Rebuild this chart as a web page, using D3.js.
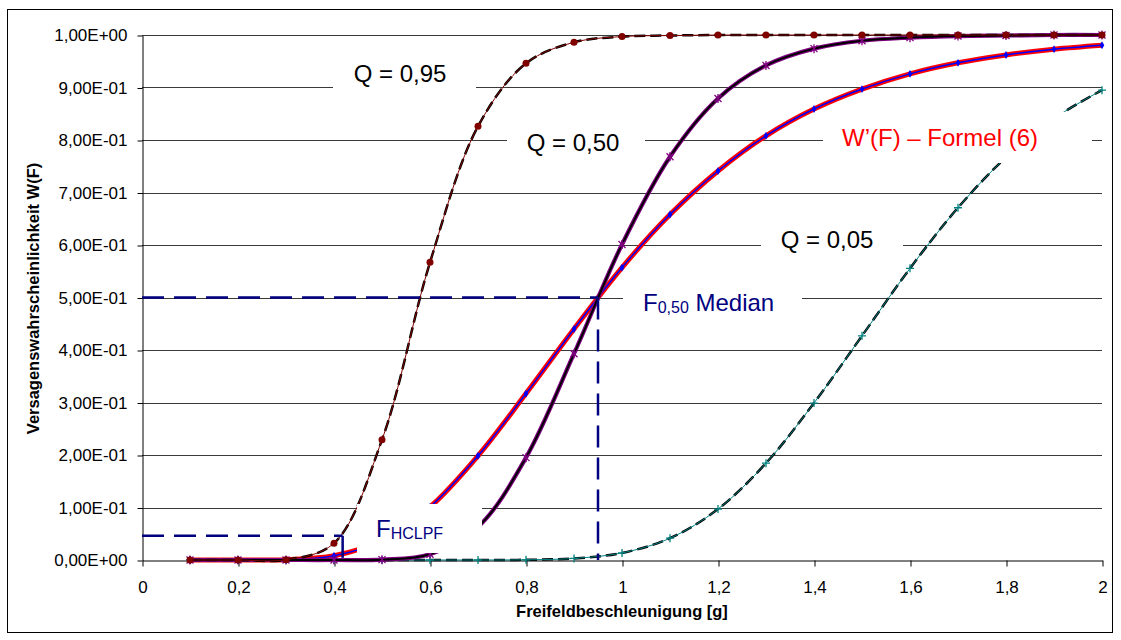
<!DOCTYPE html>
<html>
<head>
<meta charset="utf-8">
<script src="https://cdn.jsdelivr.net/npm/d3@7"></script>
<style>
  body { margin: 0; background: #fff; }
  text { font-family: "Liberation Sans", Arial, sans-serif; }
</style>
</head>
<body>
<svg id="chart"></svg>
<script>
// Freifeldbeschleunigung [g]
const accel = [0.1, 0.2, 0.3, 0.4, 0.5, 0.6, 0.7, 0.8, 0.9, 1.0, 1.1, 1.2, 1.3, 1.4, 1.5, 1.6, 1.7, 1.8, 1.9, 2.0]
// Versagenswahrscheinlichkeit je Konfidenz Q
const q95 = [0, 0, 0.0005, 0.032, 0.229, 0.567, 0.826, 0.946, 0.986, 0.997, 0.999, 1, 1, 1, 1, 1, 1, 1, 1, 1]
const q50 = [0, 0, 0, 0, 0.0007, 0.011, 0.063, 0.195, 0.393, 0.601, 0.768, 0.879, 0.942, 0.974, 0.989, 0.995, 0.998, 0.999, 1, 1]
const q05 = [0, 0, 0, 0, 0, 0, 0, 0.0004, 0.003, 0.0135, 0.0415, 0.097, 0.1845, 0.299, 0.427, 0.5555, 0.671, 0.767, 0.841, 0.895]
// W'(F) nach Formel (6)
const wPrime = [0, 0, 0.0007, 0.008, 0.0375, 0.101, 0.1985, 0.317, 0.44, 0.557, 0.658, 0.741, 0.808, 0.859, 0.897, 0.926, 0.947, 0.962, 0.973, 0.9805]
// F0,50 und FHCLPF  [F, W]
const medianPoint = [0.95, 0.5]
const hclpfPoint = [0.418, 0.046]

const xTicks = [0, 0.2, 0.4, 0.6, 0.8, 1.0, 1.2, 1.4, 1.6, 1.8, 2.0]
const xTickLabels = ["0", "0,2", "0,4", "0,6", "0,8", "1", "1,2", "1,4", "1,6", "1,8", "2"]
const yTicks = [0, 0.1, 0.2, 0.3, 0.4, 0.5, 0.6, 0.7, 0.8, 0.9, 1.0]
const yTickLabels = ["0,00E+00", "1,00E-01", "2,00E-01", "3,00E-01", "4,00E-01", "5,00E-01",
    "6,00E-01", "7,00E-01", "8,00E-01", "9,00E-01", "1,00E+00"]

const width = 1121
const height = 640
const plotLeft = 142, plotRight = 1102, plotTop = 35, plotBottom = 560

const svg = d3.select('#chart')
    .attr('width', width)
    .attr('height', height)
    .attr('viewBox', `0 0 ${width} ${height}`)

const x = d3.scaleLinear().domain([0, 2]).range([plotLeft, plotRight])
const y = d3.scaleLinear().domain([0, 1]).range([plotBottom, plotTop])

// Rahmen
svg.append('rect')
    .attr('x', 7.5).attr('y', 9.5)
    .attr('width', 1105).attr('height', 623)
    .attr('fill', '#fff')
    .attr('stroke', '#000')
    .attr('stroke-width', 1)

// Gitterlinien
svg.append('g')
    .selectAll('line')
    .data(yTicks.slice(1))
    .join('line')
    .attr('x1', x(0)).attr('x2', x(2))
    .attr('y1', d => Math.round(y(d)) + 0.5)
    .attr('y2', d => Math.round(y(d)) + 0.5)
    .attr('stroke', '#3a3a3a')
    .attr('stroke-width', 1)

// Achsen
const yAxis = g => g
    .attr('transform', `translate(${plotLeft + 0.5}, 0.5)`)
    .call(d3.axisLeft(y).tickValues(yTicks).tickFormat((d, i) => yTickLabels[i])
        .tickSize(5).tickSizeOuter(0).tickPadding(10))
    .call(g => g.selectAll('text').attr('font-size', 17).attr('fill', '#000'))
    .attr('font-family', null)

const xAxis = g => g
    .attr('transform', `translate(0.5, ${plotBottom + 0.5})`)
    .call(d3.axisBottom(x).tickValues(xTicks).tickFormat((d, i) => xTickLabels[i])
        .tickSize(6).tickSizeOuter(0).tickPadding(14))
    .call(g => g.selectAll('text').attr('font-size', 17).attr('fill', '#000'))
    .attr('font-family', null)

svg.append('g').call(yAxis)
svg.append('g').call(xAxis)

// Achsentitel
svg.append('text')
    .attr('transform', `translate(39, ${(plotTop + plotBottom) / 2 + 1}) rotate(-90)`)
    .attr('text-anchor', 'middle')
    .attr('font-size', 16.5)
    .attr('font-weight', 'bold')
    .text('Versagenswahrscheinlichkeit W(F)')

svg.append('text')
    .attr('x', (plotLeft + plotRight) / 2)
    .attr('y', 617)
    .attr('text-anchor', 'middle')
    .attr('font-size', 16.5)
    .attr('font-weight', 'bold')
    .text('Freifeldbeschleunigung [g]')

// Kurven
const pts = vals => accel.map((a, i) => [a, vals[i]])
const line = d3.line()
    .x(d => x(d[0]))
    .y(d => y(d[1]))
    .curve(d3.curveCatmullRom)

const drawPath = (data, color, w, dash) => {
    const p = svg.append('path')
        .attr('d', line(data))
        .attr('fill', 'none')
        .attr('stroke', color)
        .attr('stroke-width', w)
        .attr('stroke-linejoin', 'round')
    if (dash) p.attr('stroke-dasharray', dash)
    return p
}

const starPath = s => `M${-s},${-s}L${s},${s}M${-s},${s}L${s},${-s}M0,${-s - 1}L0,${s + 1}`
const plusPath = s => `M${-s},0L${s},0M0,${-s}L0,${s}`

// Q = 0,05
drawPath(pts(q05), '#000', 2.5, '11,5')
drawPath(pts(q05), '#008080', 1)
svg.append('g').selectAll('path')
    .data(pts(q05))
    .join('path')
    .attr('transform', d => `translate(${x(d[0])},${y(d[1])})`)
    .attr('d', plusPath(4))
    .attr('stroke', '#008080')
    .attr('stroke-width', 1.3)

// W'(F)
drawPath(pts(wPrime), '#ff0000', 5)
drawPath(pts(wPrime), '#0000ff', 1.5)
svg.append('g').selectAll('path')
    .data(pts(wPrime))
    .join('path')
    .attr('transform', d => `translate(${x(d[0])},${y(d[1])})`)
    .attr('d', d3.symbol(d3.symbolDiamond, 18)())
    .attr('fill', '#0000ff')

// Q = 0,50
drawPath(pts(q50), '#800080', 4.2)
drawPath(pts(q50), '#000', 2)
svg.append('g').selectAll('path')
    .data(pts(q50))
    .join('path')
    .attr('transform', d => `translate(${x(d[0])},${y(d[1])})`)
    .attr('d', starPath(3.5))
    .attr('stroke', '#800080')
    .attr('stroke-width', 1.3)

// Q = 0,95
drawPath(pts(q95), '#000', 2.5, '11,5')
drawPath(pts(q95), '#800000', 1)
svg.append('g').selectAll('circle')
    .data(pts(q95))
    .join('circle')
    .attr('cx', d => x(d[0]))
    .attr('cy', d => y(d[1]))
    .attr('r', 3.5)
    .attr('fill', '#800000')

// Hilfslinien Median und HCLPF
const navy = '#000080'
const guide = (x1, y1, x2, y2) => svg.append('line')
    .attr('x1', x1).attr('y1', y1).attr('x2', x2).attr('y2', y2)
    .attr('stroke', navy)
    .attr('stroke-width', 2.5)
    .attr('stroke-dasharray', '22,10')

guide(x(0), y(medianPoint[1]), x(medianPoint[0]), y(medianPoint[1]))
guide(x(medianPoint[0]), y(medianPoint[1]), x(medianPoint[0]), y(0))
guide(x(0), y(hclpfPoint[1]), x(hclpfPoint[0]), y(hclpfPoint[1]))
guide(x(hclpfPoint[0]), y(hclpfPoint[1]), x(hclpfPoint[0]), y(0))

// Beschriftungen mit weissem Hintergrund
const boxes = [
    {x0: 333, x1: 476, y0: 56, y1: 100},
    {x0: 507, x1: 645, y0: 122, y1: 165},
    {x0: 761, x1: 903, y0: 222, y1: 268},
    {x0: 623, x1: 802, y0: 278, y1: 322},
    {x0: 823, x1: 1092, y0: 112, y1: 163},
    {x0: 357, x1: 482, y0: 504, y1: 553}
]
svg.append('g').selectAll('rect')
    .data(boxes)
    .join('rect')
    .attr('x', d => d.x0).attr('y', d => d.y0)
    .attr('width', d => d.x1 - d.x0).attr('height', d => d.y1 - d.y0)
    .attr('fill', '#fff')

const label = (tx, ty, str, color) => svg.append('text')
    .attr('x', tx).attr('y', ty)
    .attr('text-anchor', 'middle')
    .attr('font-size', 24)
    .attr('fill', color)
    .text(str)

label(400, 82, 'Q = 0,95', '#000')
label(573, 151, 'Q = 0,50', '#000')
label(827, 248, 'Q = 0,05', '#000')
label(940, 146, 'W\u2019(F) \u2013 Formel (6)', '#ff0000')

const f050 = svg.append('text')
    .attr('x', 643).attr('y', 311)
    .attr('font-size', 24)
    .attr('fill', navy)
f050.append('tspan').text('F')
f050.append('tspan').attr('font-size', 16).attr('dy', 2).text('0,50')
f050.append('tspan').attr('dy', -2).text(' Median')

const fh = svg.append('text')
    .attr('x', 376).attr('y', 537)
    .attr('font-size', 24)
    .attr('fill', navy)
fh.append('tspan').text('F')
fh.append('tspan').attr('font-size', 16).attr('dy', 2).text('HCLPF')
</script>
</body>
</html>
